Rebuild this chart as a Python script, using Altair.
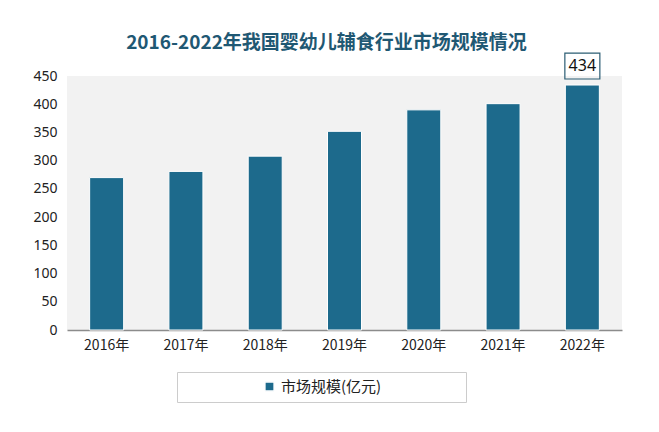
import altair as alt
import pandas as pd

years = ["2016年", "2017年", "2018年", "2019年", "2020年", "2021年", "2022年"]
values = [270, 281, 308, 352, 390, 401, 434]
series = "市场规模(亿元)"
label_year = ["2022年"]
label_value = [434]

df = pd.DataFrame({"year": years, "value": values, "series": [series] * len(years)})
lab = pd.DataFrame({"year": label_year, "value": label_value})

FONT = "Noto Sans CJK SC"
BAR = "#1d6a8c"
PAD = "\u2800" * 7

x = alt.X("year:N", sort=years, title=None,
          axis=alt.Axis(labelAngle=0, labelFontSize=14, labelColor="#222222",
                        labelFont=FONT, ticks=False, domainColor="#8c8c8c",
                        domainWidth=1.5, labelPadding=8))
y = alt.Y("value:Q", title=None, scale=alt.Scale(domain=[0, 450]),
          axis=alt.Axis(values=list(range(0, 451, 50)), labelFontSize=14,
                        labelColor="#222222", labelFont="Noto Sans", ticks=False,
                        domain=False, grid=False, labelPadding=10,
                        labelOverlap=False))

bars = alt.Chart(df).mark_bar(size=34, stroke="white", strokeWidth=1).encode(
    x=x, y=y,
    color=alt.Color("series:N", scale=alt.Scale(range=[BAR]),
                    legend=alt.Legend(title=None, orient="none", legendX=110,
                                      legendY=296, direction="horizontal",
                                      symbolType="square", symbolSize=85,
                                      symbolOffset=78,
                                      labelExpr="datum.label + '" + PAD + "'",
                                      labelFontSize=15, labelFont=FONT,
                                      labelColor="#222222", labelLimit=400,
                                      strokeColor="#cccccc", padding=7,
                                      fillColor="white"))
)

box = alt.Chart(lab).mark_point(
    shape="M-1,-0.74L1,-0.74L1,0.74L-1,0.74Z", size=1225, filled=False,
    stroke="#2b5d73", strokeWidth=1.2, opacity=1, yOffset=-19
).encode(x=x, y=y)

txt = alt.Chart(lab).mark_text(
    fontSize=16, font="Noto Sans", color="#111111", dy=-19
).encode(x=x, y=y, text="value:Q")

chart = alt.layer(bars, box, txt).properties(
    width=555, height=254,
    autosize=alt.AutoSizeParams(type="none"),
    padding={"left": 59, "top": 68, "right": 29, "bottom": 94},
    background="white",
    title=alt.TitleParams("2016-2022年我国婴幼儿辅食行业市场规模情况",
                          fontSize=19, font=FONT, fontWeight="bold",
                          color="#1f5873", offset=-2, dx=-18),
).configure_view(fill="#f2f2f2", stroke=None)

chart.save("out.html", embed_options={"renderer": "svg", "actions": False})
